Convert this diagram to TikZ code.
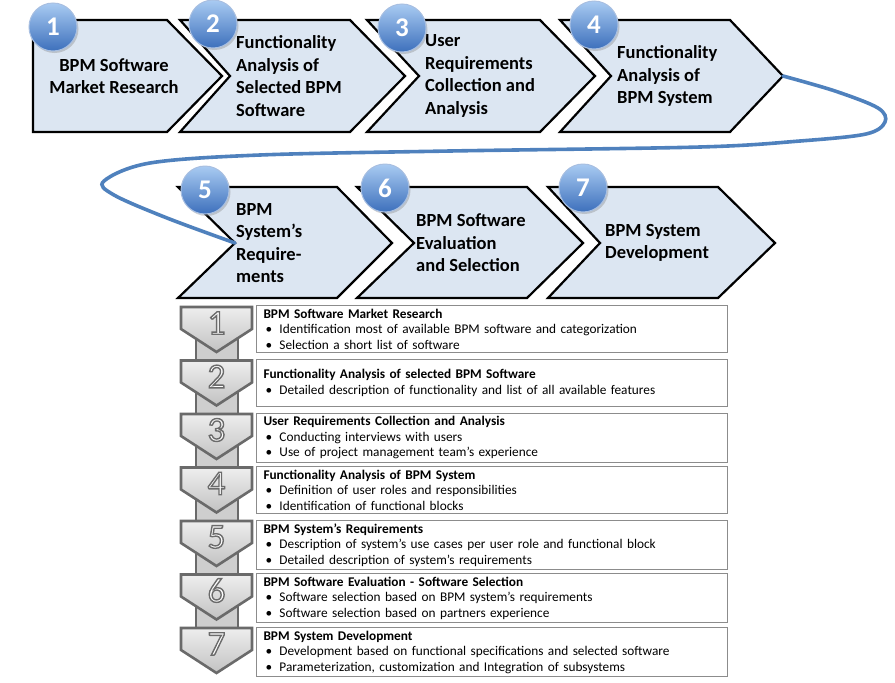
\documentclass[tikz,border=0pt]{standalone}
\usepackage{fontspec}
\setmainfont{Carlito}
\usetikzlibrary{shadows}
\definecolor{chevfill}{HTML}{DCE6F2}
\definecolor{balltop}{HTML}{A9CBF2}
\definecolor{ballbot}{HTML}{3D70BC}
\definecolor{loopblue}{HTML}{4F81BD}
\definecolor{arrgray}{HTML}{6A6A6A}
\definecolor{arrlight}{HTML}{EEEEEE}
\definecolor{arrdark}{HTML}{C2C2C2}
\definecolor{boxgray}{HTML}{8C8C8C}
\newcommand{\itm}{\\\hspace*{2pt}\makebox[14pt][l]{\textbullet}}
\newcommand{\hollow}[1]{\special{pdf:literal direct q 2 Tr 1.4 w 0.42 0.42 0.42 RG}#1\special{pdf:literal direct Q}}

\begin{document}
\begin{tikzpicture}[x=1pt,y=-1pt,
  chev/.style={draw=black,line width=2.2pt,fill=chevfill,line join=miter},
  ctext/.style={font=\bfseries\fontsize{18.5}{22.5}\selectfont,align=left,anchor=west,inner sep=0pt},
  numball/.style={circle,minimum size=48pt,inner sep=0pt,top color=balltop,bottom color=ballbot,
    draw=white!55!ballbot,line width=1pt,drop shadow={opacity=0.35,shadow xshift=1.5pt,shadow yshift=-2pt},
    text=white,font=\bfseries\fontsize{27}{27}\selectfont},
  garrow/.style={draw=arrgray,line width=2.6pt,top color=arrlight,bottom color=arrdark,line join=miter},
  gnum/.style={text=white,inner sep=0pt,font=\fontsize{35}{35}\selectfont},
  infobox/.style={draw=boxgray,line width=1pt,fill=white,anchor=north west,minimum width=471pt,minimum height=47pt,
    text width=457pt,inner xsep=7pt,align=left,font=\fontsize{13.3}{15.5}\selectfont},
  loop/.style={draw=loopblue,line width=3.6pt,line cap=round}]
  \useasboundingbox (0,0) rectangle (895,683);
  %Obere Reihe
  \draw[chev] (33,20) -- (167,20) -- (222,76) -- (167,132) -- (33,132) -- cycle;
  \draw[chev] (180,20) -- (350,20) -- (405,76) -- (350,132) -- (180,132) -- (230,76) -- cycle;
  \draw[chev] (367,20) -- (540,20) -- (595,76) -- (540,132) -- (367,132) -- (419,76) -- cycle;
  \draw[chev] (560,20) -- (730,20) -- (783,76) -- (730,132) -- (560,132) -- (611,76) -- cycle;
  \coordinate (tip4) at (783,76);
  \node[ctext,anchor=center,align=center] (t1) at (114,76) {BPM Software\\Market Research};
  \node[ctext] (t2) at (236,76) {Functionality\\Analysis of\\Selected BPM\\Software};
  \node[ctext] (t3) at (425,76) {User\\Requirements\\Collection and\\Analysis};
  \node[ctext] (t4) at (617,76) {Functionality\\Analysis of\\BPM System};
  %Untere Reihe
  \draw[chev] (178,187) -- (337,187) -- (392,243) -- (337,298) -- (178,298) -- (235,243) -- cycle;
  \draw[chev] (357,187) -- (527,187) -- (583,243) -- (527,298) -- (357,298) -- (414,243) -- cycle;
  \draw[chev] (548,187) -- (718,187) -- (775,243) -- (718,298) -- (548,298) -- (600,243) -- cycle;
  \coordinate (notch5) at (235,243);
  \node[ctext] (t5) at (236,243) {BPM\\System’s\\Require-\\ments};
  \node[ctext] (t6) at (416,243) {BPM Software\\Evaluation\\and Selection};
  \node[ctext] (t7) at (605,243) {BPM System\\Development};
  %Schleife
  \draw[loop] plot[smooth,tension=0.55] coordinates {(tip4) (835,91) (878,108) (885,122) (866,134)
    (800,141) (700,147) (450,151) (260,155) (150,163) (104,181) (114,195) (167,218) (notch5)};
  %Nummern
  \node[numball] (n1) at (53,27) {1};
  \node[numball] (n2) at (213,24) {2};
  \node[numball] (n3) at (402,28) {3};
  \node[numball] (n4) at (594,25) {4};
  \node[numball] (n5) at (205,190) {5};
  \node[numball] (n6) at (385,188) {6};
  \node[numball] (n7) at (583,188) {7};
  %Liste
  \draw[draw=arrgray,line width=1.2pt,fill=arrdark!80!white] (196,330) rectangle (238,650);
  \draw[garrow] (181,307) -- (252,307) -- (252,329) -- (216.5,352) -- (181,329) -- cycle;
  \draw[garrow] (181,360.5) -- (252,360.5) -- (252,382.5) -- (216.5,405.5) -- (181,382.5) -- cycle;
  \draw[garrow] (181,414) -- (252,414) -- (252,436) -- (216.5,459) -- (181,436) -- cycle;
  \draw[garrow] (181,467.5) -- (252,467.5) -- (252,489.5) -- (216.5,512.5) -- (181,489.5) -- cycle;
  \draw[garrow] (181,521) -- (252,521) -- (252,543) -- (216.5,566) -- (181,543) -- cycle;
  \draw[garrow] (181,574.5) -- (252,574.5) -- (252,596.5) -- (216.5,619.5) -- (181,596.5) -- cycle;
  \draw[garrow] (181,628) -- (252,628) -- (252,650) -- (216.5,673) -- (181,650) -- cycle;
  \node[gnum] (g1) at (216.5,323) {\hollow{1}};
  \node[gnum] (g2) at (216.5,376.5) {\hollow{2}};
  \node[gnum] (g3) at (216.5,430) {\hollow{3}};
  \node[gnum] (g4) at (216.5,483.5) {\hollow{4}};
  \node[gnum] (g5) at (216.5,537) {\hollow{5}};
  \node[gnum] (g6) at (216.5,590.5) {\hollow{6}};
  \node[gnum] (g7) at (216.5,644) {\hollow{7}};
  \node[infobox] (b1) at (256,305) {\textbf{BPM Software Market Research}\itm Identification most of available BPM software and categorization\itm Selection a short list of software};
  \node[infobox] (b2) at (256,359) {\textbf{Functionality Analysis of selected BPM Software}\itm Detailed description of functionality and list of all available features};
  \node[infobox] (b3) at (256,412.5) {\textbf{User Requirements Collection and Analysis}\itm Conducting interviews with users\itm Use of project management team’s experience};
  \node[infobox] (b4) at (256,466) {\textbf{Functionality Analysis of BPM System}\itm Definition of user roles and responsibilities\itm Identification of functional blocks};
  \node[infobox] (b5) at (256,519.5) {\textbf{BPM System’s Requirements}\itm Description of system’s use cases per user role and functional block\itm Detailed description of system’s requirements};
  \node[infobox] (b6) at (256,573) {\textbf{BPM Software Evaluation - Software Selection}\itm Software selection based on BPM system’s requirements\itm Software selection based on partners experience};
  \node[infobox] (b7) at (256,627) {\textbf{BPM System Development}\itm Development based on functional specifications and selected software\itm Parameterization, customization and Integration of subsystems};
\end{tikzpicture}
\end{document}
